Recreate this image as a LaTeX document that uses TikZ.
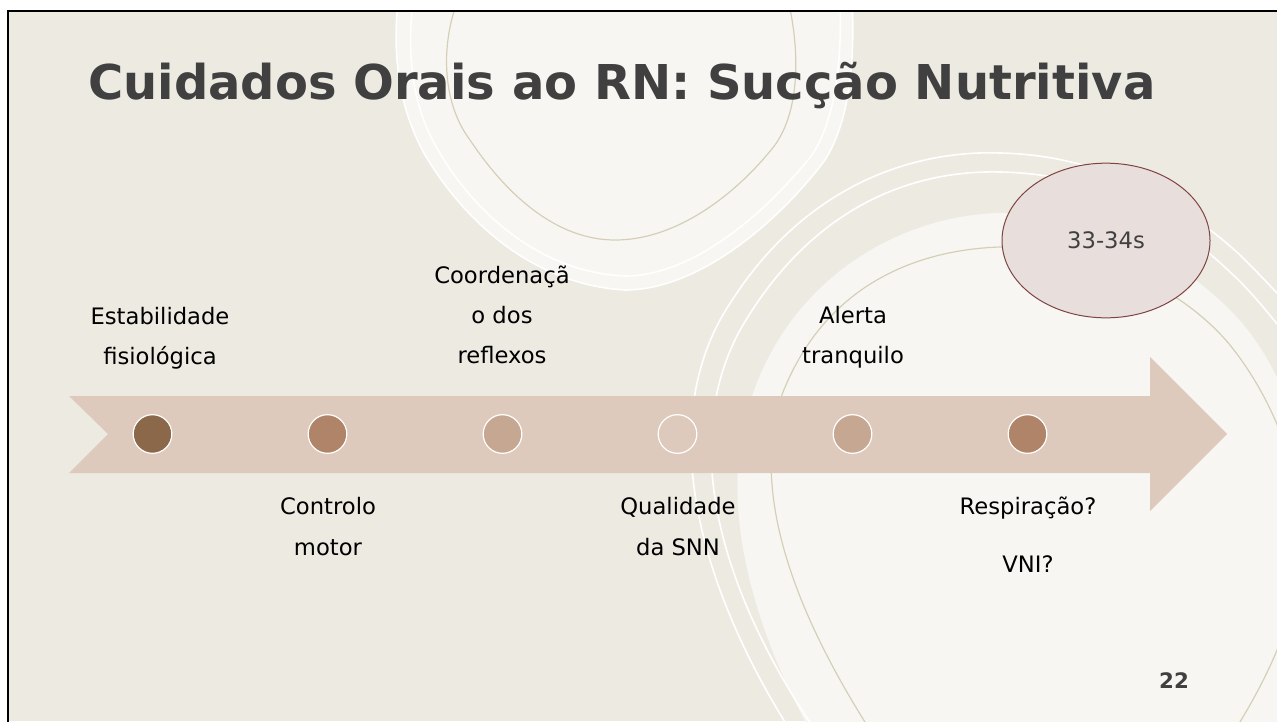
\documentclass[tikz,border=0pt]{standalone}
\usepackage{fontspec}
\setmainfont{DejaVu Sans}
\usetikzlibrary{shapes.geometric}
\definecolor{bg}{HTML}{EDEAE2}
\definecolor{lite}{HTML}{F8F6F2}
\definecolor{beigeline}{HTML}{D5CFB8}
\definecolor{band}{HTML}{DDCABD}
\definecolor{dk1}{HTML}{8B6849}
\definecolor{dk2}{HTML}{B08468}
\definecolor{dk3}{HTML}{C6A792}
\definecolor{titlegray}{HTML}{404040}
\definecolor{ellfill}{HTML}{E8DEDC}
\definecolor{elldraw}{HTML}{7E4444}
\begin{document}
\begin{tikzpicture}[x=0.75pt,y=-0.75pt,
  dot/.style={circle, minimum size=29pt, inner sep=0pt, draw=white, line width=0.9pt},
  lbl/.style={anchor=base, inner sep=0pt, font=\fontsize{17}{20}\selectfont, text=black},
  wline/.style={draw=white, line width=1.2pt},
  bline/.style={draw=beigeline, line width=0.9pt}]
\useasboundingbox (0,0) rectangle (1277,721);
\fill[white] (0,0) rectangle (1277,721);
\begin{scope}
\clip (8,11) rectangle (1277,721);
\fill[bg] (8,11) rectangle (1277,721);
% top blob
\fill[lite] (398,0) .. controls (392,60) and (400,110) .. (425,155)
  .. controls (470,230) and (540,285) .. (625,290)
  .. controls (700,290) and (780,220) .. (825,160)
  .. controls (850,120) and (855,60) .. (852,0) -- cycle;
\draw[wline] (398,0) .. controls (392,60) and (400,110) .. (425,155)
  .. controls (470,230) and (540,285) .. (625,290)
  .. controls (700,290) and (780,220) .. (825,160)
  .. controls (850,120) and (855,60) .. (852,0);
\draw[wline] (413,0) .. controls (406,60) and (414,110) .. (438,150)
  .. controls (480,222) and (548,273) .. (625,276)
  .. controls (695,276) and (768,210) .. (812,155)
  .. controls (836,118) and (842,60) .. (840,0);
\draw[bline] (458,0) .. controls (442,40) and (440,100) .. (470,140)
  .. controls (510,200) and (560,240) .. (615,240)
  .. controls (680,240) and (740,190) .. (775,145)
  .. controls (800,110) and (800,50) .. (788,0);
% lower right blob
\fill[lite] (810,730) .. controls (760,640) and (720,520) .. (745,420)
  .. controls (780,280) and (900,215) .. (1000,213)
  .. controls (1100,212) and (1180,260) .. (1230,310)
  .. controls (1300,380) and (1320,500) .. (1320,600) -- (1320,730) -- cycle;
\draw[wline] (790,730) .. controls (720,620) and (650,450) .. (720,320)
  .. controls (800,180) and (920,150) .. (1000,153)
  .. controls (1100,155) and (1180,200) .. (1240,255)
  .. controls (1260,275) and (1280,295) .. (1300,320);
\draw[wline] (815,730) .. controls (740,620) and (670,460) .. (740,330)
  .. controls (815,200) and (920,170) .. (1000,172)
  .. controls (1100,174) and (1170,215) .. (1230,272)
  .. controls (1250,290) and (1270,315) .. (1290,340);
\draw[bline] (870,730) .. controls (800,620) and (750,500) .. (780,400)
  .. controls (820,290) and (910,250) .. (1000,247)
  .. controls (1090,245) and (1180,285) .. (1230,345)
  .. controls (1290,420) and (1315,520) .. (1295,600)
  .. controls (1280,650) and (1260,690) .. (1235,730);
\end{scope}
\draw[black, line width=1.6pt] (8,740) -- (8,11) -- (1290,11);
% title
\node[anchor=base west, inner sep=0pt, font=\fontsize{36}{40}\selectfont\bfseries, text=titlegray] (title) at (88,99) {Cuidados Orais ao RN: Sucção Nutritiva};
% arrow band
\fill[band] (69,396) -- (1150,396) -- (1150,357) -- (1227,434) -- (1150,511) -- (1150,473) -- (69,473) -- (108,434) -- cycle;
% dots
\node[dot, fill=dk1] (c1) at (152.5,434) {};
\node[dot, fill=dk2] (c2) at (327.5,434) {};
\node[dot, fill=dk3] (c3) at (502.5,434) {};
\node[dot, fill=band] (c4) at (677.5,434) {};
\node[dot, fill=dk3] (c5) at (852.5,434) {};
\node[dot, fill=dk2] (c6) at (1027.5,434) {};
% labels
\node[lbl] (t1a) at (160,324) {Estabilidade};
\node[lbl] (t1b) at (160,364) {fisiológica};
\node[lbl] (t2a) at (328,514) {Controlo};
\node[lbl] (t2b) at (328,555) {motor};
\node[lbl] (t3a) at (502,283) {Coordenaçã};
\node[lbl] (t3b) at (502,323) {o dos};
\node[lbl] (t3c) at (502,363) {reflexos};
\node[lbl] (t4a) at (678,514) {Qualidade};
\node[lbl] (t4b) at (678,555) {da SNN};
\node[lbl] (t5a) at (853,323) {Alerta};
\node[lbl] (t5b) at (853,363) {tranquilo};
\node[lbl] (t6a) at (1028,514) {Respiração?};
\node[lbl] (t6b) at (1028,572) {VNI?};
% ellipse
\node[ellipse, minimum width=156pt, minimum height=116pt, inner sep=0pt, fill=ellfill, draw=elldraw, line width=0.75pt, text=titlegray, font=\fontsize{17}{20}\selectfont] (age) at (1106,240.5) {33-34s};
% page number
\node[anchor=base, inner sep=0pt, font=\fontsize{16}{18}\selectfont\bfseries, text=titlegray] (pg) at (1174,688) {22};
\end{tikzpicture}
\end{document}
